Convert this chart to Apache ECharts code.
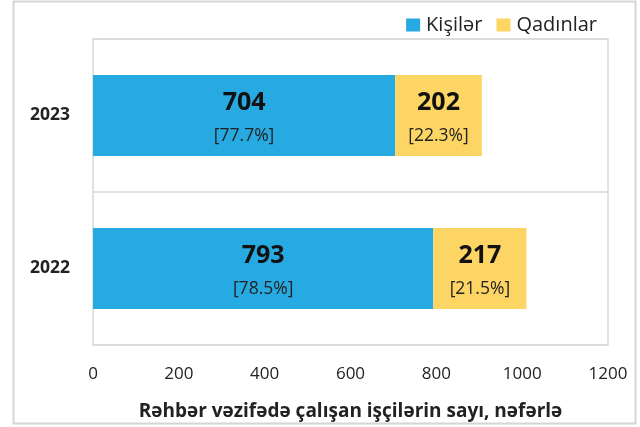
<!DOCTYPE html>
<html>
<head>
<meta charset="utf-8">
<script src="https://cdn.jsdelivr.net/npm/echarts@6/dist/echarts.min.js"></script>
<style>
  html, body { margin: 0; padding: 0; background: #fff; }
  #chart { width: 640px; height: 427px; }
</style>
</head>
<body>
<div id="chart"></div>
<script>
// İllər (aşağıdan yuxarı)
var years = ['2022', '2023'];
var kisiler = [793, 704];
var qadinlar = [217, 202];
var xTicks = [0, 200, 400, 600, 800, 1000, 1200];
var axisTitle = 'Rəhbər vəzifədə çalışan işçilərin sayı, nəfərlə';

var FONT = '"Open Sans", "Noto Sans", sans-serif';

function pct(v, i) {
  return (v / (kisiler[i] + qadinlar[i]) * 100).toFixed(1) + '%';
}

function barLabel(arr) {
  return {
    show: true,
    position: 'inside',
    formatter: function (p) {
      return '{a|' + arr[p.dataIndex] + '}\n{b|[' + pct(arr[p.dataIndex], p.dataIndex) + ']}';
    },
    rich: {
      a: { fontFamily: FONT, fontSize: 25, fontWeight: 'bold', color: '#111', lineHeight: 42 },
      b: { fontFamily: FONT, fontSize: 17.5, color: '#222', lineHeight: 26 }
    }
  };
}

var chart = echarts.init(document.getElementById('chart'));
chart.setOption({
  animation: false,
  graphic: [{
    type: 'rect',
    shape: { x: 13.5, y: 1.5, width: 622, height: 422 },
    style: { fill: 'none', stroke: '#d6d6d6', lineWidth: 2 },
    silent: true
  }],
  legend: {
    right: 38,
    top: 10,
    itemWidth: 14,
    itemHeight: 13,
    itemGap: 14,
    icon: 'rect',
    textStyle: { fontFamily: FONT, fontSize: 20, color: '#222', padding: [0, 0, 0, 1] },
    data: ['Kişilər', 'Qadınlar']
  },
  grid: {
    left: 93,
    right: 32,
    top: 39,
    bottom: 82,
    show: true,
    borderColor: '#d9d9d9',
    borderWidth: 1.5
  },
  xAxis: {
    type: 'value',
    min: 0,
    max: 1200,
    interval: 200,
    axisLine: { show: false },
    axisTick: { show: false },
    splitLine: { show: false },
    axisLabel: {
      margin: 21,
      fontFamily: FONT,
      fontSize: 17,
      color: '#222',
      formatter: function (v) { return xTicks.indexOf(v) >= 0 ? String(v) : ''; }
    },
    name: axisTitle,
    nameLocation: 'middle',
    nameGap: 57,
    nameTextStyle: { fontFamily: FONT, fontSize: 19, fontWeight: 'bold', color: '#222' }
  },
  yAxis: {
    type: 'category',
    data: years,
    axisLine: { show: false },
    axisTick: { show: false },
    splitLine: { show: true, lineStyle: { color: '#d9d9d9', width: 1.5 } },
    axisLabel: {
      margin: 23,
      fontFamily: FONT,
      fontSize: 17.5,
      fontWeight: 'bold',
      color: '#222'
    }
  },
  series: [{
    name: 'Kişilər',
    type: 'bar',
    stack: 'total',
    barWidth: '53%',
    itemStyle: { color: '#27aae1' },
    label: barLabel(kisiler),
    data: kisiler
  }, {
    name: 'Qadınlar',
    type: 'bar',
    stack: 'total',
    itemStyle: { color: '#fdd564' },
    label: barLabel(qadinlar),
    data: qadinlar
  }]
});
</script>
</body>
</html>
